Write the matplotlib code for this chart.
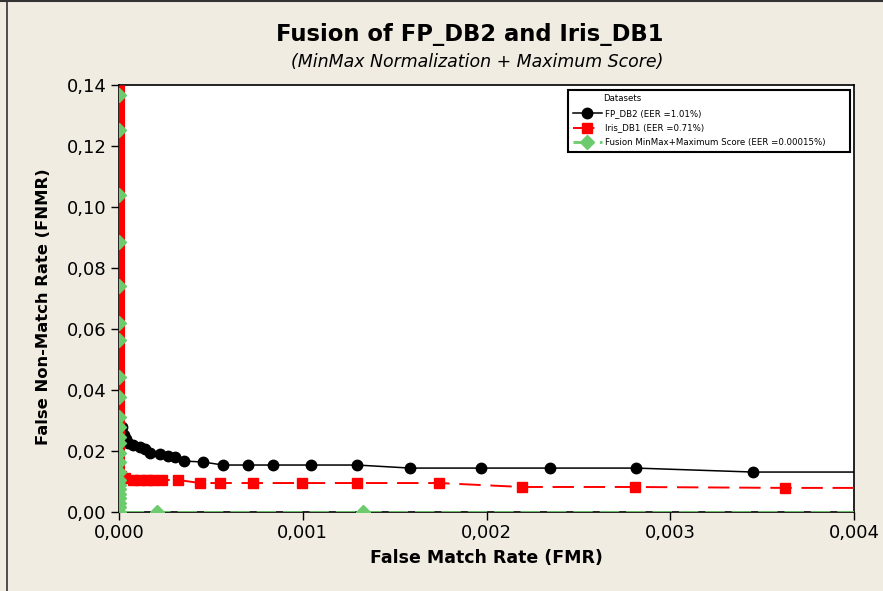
import matplotlib
import matplotlib.pyplot as plt
from matplotlib.lines import Line2D
from matplotlib.ticker import FuncFormatter

matplotlib.use("agg")

# ROC points (FMR, FNMR) for each dataset
fp_fmr = [0.0, 0.000016, 0.000027, 0.000038, 0.000049, 0.000076, 0.000114,
          0.000140, 0.000169, 0.000223, 0.000267, 0.000305, 0.000354,
          0.000457, 0.000566, 0.000702, 0.000838, 0.001045, 0.001295,
          0.001584, 0.001970, 0.002346, 0.002814, 0.003450, 0.004000]
fp_fnmr = [0.0300, 0.0279, 0.0252, 0.0238, 0.0226, 0.0220, 0.0213,
           0.0205, 0.0193, 0.0190, 0.0184, 0.0180, 0.0167,
           0.0164, 0.0154, 0.0154, 0.0154, 0.0154, 0.0154,
           0.0144, 0.0144, 0.0144, 0.0144, 0.0131, 0.0131]

iris_fmr = [0.0, 0.0, 0.000010, 0.000033, 0.000076, 0.000114, 0.000152,
            0.000185, 0.000234, 0.000321, 0.000441, 0.000550, 0.000730,
            0.000996, 0.001295, 0.001740, 0.002193, 0.002808, 0.003624,
            0.004000]
iris_fnmr = [0.1400, 0.0125, 0.0118, 0.0111, 0.0105, 0.0105, 0.0105,
             0.0105, 0.0105, 0.0105, 0.0095, 0.0095, 0.0095,
             0.0095, 0.0095, 0.0095, 0.0082, 0.0082, 0.0079,
             0.0079]

fusion_fmr = [0.0] * 24 + [0.000207, 0.001330, 0.004000]
fusion_fnmr = [0.1367, 0.1252, 0.1039, 0.0885, 0.0741, 0.0620, 0.0564,
               0.0443, 0.0377, 0.0311, 0.0279, 0.0246, 0.0226, 0.0193,
               0.0164, 0.0131, 0.0105, 0.0090, 0.0075, 0.0060, 0.0045,
               0.0030, 0.0015, 0.0, 0.0, 0.0, 0.0]

labels = [
    "FP_DB2 (EER =1.01%)",
    "Iris_DB1 (EER =0.71%)",
    "Fusion MinMax+Maximum Score (EER =0.00015%)",
]

x_ticks = [0.000, 0.001, 0.002, 0.003, 0.004]
y_ticks = [0.00, 0.02, 0.04, 0.06, 0.08, 0.10, 0.12, 0.14]

bg = "#F0ECE2"
red = "#FF0000"
green = "#6CCB6C"

fig = plt.figure(figsize=(8.83, 5.91), dpi=100, facecolor=bg)
ax = fig.add_axes([119 / 883, 79 / 591, 735 / 883, 427 / 591])
ax.set_facecolor("white")

# FP_DB2: solid black with circles
ax.plot(fp_fmr, fp_fnmr, color="black", lw=1.1, marker="o", ms=7.5,
        markevery=slice(1, -1), zorder=3)

# Fusion line sits under the Iris band, its diamonds on top
ax.plot(fusion_fmr, fusion_fnmr, color=green, lw=2, dashes=(7, 2.5), zorder=3.05)

# Iris_DB1: vertical run at FMR=0 is a dense band of points
ax.plot(iris_fmr[:2], iris_fnmr[:2], color=red, lw=8,
        solid_capstyle="butt", zorder=3.1)
ax.plot(iris_fmr[1:], iris_fnmr[1:], color=red, lw=1.4, dashes=(11, 5),
        marker="s", ms=7, markevery=slice(1, -1), zorder=3.2)

ax.plot(fusion_fmr[:-1], fusion_fnmr[:-1], ls="none", marker="D", ms=7.5,
        color=green, zorder=3.3)

ax.set_xlim(0, 0.004)
ax.set_ylim(0, 0.14)
ax.set_xticks(x_ticks)
ax.set_yticks(y_ticks)
ax.xaxis.set_major_formatter(FuncFormatter(lambda v, p: f"{v:.3f}".replace(".", ",")))
ax.yaxis.set_major_formatter(FuncFormatter(lambda v, p: f"{v:.2f}".replace(".", ",")))
ax.tick_params(axis="both", direction="out", length=6, width=1, labelsize=13,
               pad=3, top=False, right=False)
for s in ax.spines.values():
    s.set_linewidth(1.2)

ax.set_xlabel("False Match Rate (FMR)", fontsize=12.5, fontweight="bold", labelpad=5)
ax.set_ylabel("False Non-Match Rate (FNMR)", fontsize=11.8, fontweight="bold")
ax.yaxis.set_label_coords(-0.0925, 0.48)

fig.text(470 / 883, 1 - 35 / 591, "Fusion of FP_DB2 and Iris_DB1",
         ha="center", va="center", fontsize=16.3, fontweight="bold")
fig.text(477 / 883, 1 - 62 / 591, "(MinMax Normalization + Maximum Score)",
         ha="center", va="center", fontsize=12.5, style="italic")

handles = [
    Line2D([], [], color="black", lw=1.1, marker="o", ms=7.5),
    Line2D([], [], color=red, lw=1.4, dashes=(11, 5), marker="s", ms=7),
    Line2D([], [], color=green, lw=2, dashes=(7, 2.5), marker="D", ms=7),
]
leg = ax.legend(handles, labels, title=" ", loc="upper left",
                bbox_to_anchor=(0.611, 0.843, 0.384, 0.145), mode="expand",
                borderaxespad=0, fontsize=6.2, title_fontsize=6.2,
                handlelength=3.4, handletextpad=0.3, labelspacing=0.62,
                borderpad=0.55, fancybox=False, framealpha=1, edgecolor="black")
leg.get_frame().set_linewidth(1.5)
ax.text(603 / 735 - 119 / 735, 1 - 14 / 427, "Datasets", transform=ax.transAxes,
        fontsize=6.2, va="center", ha="left", zorder=6)

# window edges on the left and top
fig.add_artist(Line2D([7 / 883, 7 / 883], [0, 1], color="#333333", lw=1.2))
fig.add_artist(Line2D([0, 1], [1 - 1 / 591, 1 - 1 / 591], color="#333333", lw=1.5))

fig.savefig("out.png", dpi=100, facecolor=bg)
